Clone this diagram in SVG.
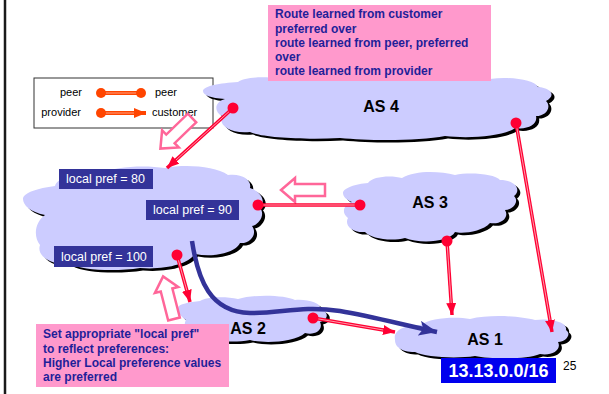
<svg xmlns="http://www.w3.org/2000/svg" xmlns:xlink="http://www.w3.org/1999/xlink" width="609" height="394" viewBox="0 0 609 394">
<style>
.cloud{fill:#CCCCFF;stroke:none}
.shadow{fill:#000}
.aslabel{font-family:"Liberation Sans",Arial,sans-serif;font-weight:bold;font-size:16px;fill:#000;text-anchor:middle}
.note{fill:#FF99CC}
.notetext{font-family:"Liberation Sans",Arial,sans-serif;font-weight:bold;font-size:12px;fill:#1F1F99}
.lpbox{fill:#333399}
.lptext{font-family:"Liberation Sans",Arial,sans-serif;font-size:12.5px;fill:#fff}
.legtext{font-family:"Liberation Sans",Arial,sans-serif;font-size:11px;fill:#000}
.rel{stroke:#FF0033;stroke-width:3.5;fill:none}
.relin{stroke:#FF9AAA;stroke-width:1;fill:none}
.dot{fill:#FF0033}
.hollow{fill:#fff;stroke:#FF6699;stroke-width:2.5;stroke-linejoin:miter}
</style>
<defs>
<marker id="redhead" markerUnits="userSpaceOnUse" markerWidth="13" markerHeight="11" refX="12" refY="5" orient="auto">
<path d="M0,0 L12,5 L0,10 z" fill="#FF0033"/>
</marker>
<marker id="orangehead" markerUnits="userSpaceOnUse" markerWidth="13" markerHeight="11" refX="12" refY="5" orient="auto">
<path d="M0,0 L12,5 L0,10 z" fill="#FF4500"/>
</marker>
<marker id="navyhead" markerUnits="userSpaceOnUse" markerWidth="20" markerHeight="16" refX="18" refY="7.5" orient="auto">
<path d="M0,0 L18,7.5 L0,15 L4,7.5 z" fill="#333399"/>
</marker>
<polygon id="hollow" points="0,-6 30,-6 30,-12 44,0 30,12 30,6 0,6"/>
<path id="c-as4" d="M203,91 C203,86 220,83 238,82 C245,77 265,76 280,79 C310,74 350,75 380,78 C420,74 460,75 490,79 C510,76 535,80 538,87 C552,88 556,96 546,101 C552,107 546,116 536,116 C538,124 528,130 515,128 C505,136 470,139 445,136 C420,141 370,141 340,138 C300,140 260,137 250,132 C230,134 218,125 222,116 C214,112 214,102 225,99 C210,98 203,95 203,91 Z"/>
<path id="c-local" d="M23,199 C23,193 38,188 55,186 C58,176 80,172 100,174 C115,166 145,165 165,168 C185,164 215,166 228,175 C242,173 252,180 250,188 C262,192 266,202 260,208 C266,215 258,225 252,226 C258,234 250,244 240,243 C236,252 215,258 195,254 C188,264 165,270 140,268 C115,272 80,270 70,264 C52,266 36,256 40,245 C33,236 35,222 45,215 C30,212 23,205 23,199 Z"/>
<path id="c-as3" d="M343,193 C343,188 356,184 368,183 C372,176 392,175 402,178 C415,170 440,171 455,175 C470,172 495,174 500,180 C515,180 522,190 514,196 C520,202 512,210 505,210 C510,218 500,225 490,223 C482,232 462,234 455,232 C450,242 420,244 405,238 C390,242 370,238 365,232 C352,233 344,225 348,218 C340,212 345,204 352,202 C346,200 343,196 343,193 Z"/>
<path id="c-as2" d="M178,308 C178,304 190,302 200,301 C205,297 225,296 238,299 C255,294 285,295 295,300 C310,299 322,304 320,309 C330,312 328,320 320,322 C324,330 314,336 305,333 C295,342 265,344 250,340 C230,344 205,340 200,334 C188,334 182,326 186,320 C180,316 178,312 178,308 Z"/>
<path id="c-as1" d="M395,340 C393,330 405,325 420,325 C430,318 455,316 470,319 C490,314 520,316 535,320 C550,318 568,322 566,330 C572,334 566,342 558,342 C562,350 552,356 540,354 C525,360 490,359 475,356 C455,359 425,357 415,352 C400,352 395,346 395,340 Z"/>
</defs>

<rect x="0" y="0" width="609" height="394" fill="#fff"/>
<line x1="5" y1="0" x2="5" y2="394" stroke="#1a1a1a" stroke-width="2.5"/>

<g id="legend">
<rect x="34" y="78" width="179" height="50" fill="#fff" stroke="#333" stroke-width="1"/>
<text class="legtext" x="82" y="96" text-anchor="end">peer</text>
<line x1="101" y1="93" x2="141" y2="93" stroke="#FF4500" stroke-width="4"/>
<line x1="101" y1="93" x2="141" y2="93" stroke="#FFA080" stroke-width="1"/>
<circle cx="101" cy="93" r="5" fill="#FF4500"/>
<circle cx="141" cy="93" r="5" fill="#FF4500"/>
<text class="legtext" x="155" y="96">peer</text>
<text class="legtext" x="81" y="116" text-anchor="end">provider</text>
<line x1="101" y1="113" x2="146" y2="113" stroke="#FF4500" stroke-width="4" marker-end="url(#orangehead)"/>
<line x1="101" y1="113" x2="134" y2="113" stroke="#FFA080" stroke-width="1"/>
<circle cx="101" cy="113" r="5" fill="#FF4500"/>
<text class="legtext" x="152" y="116">customer</text>
</g>

<g id="as4">
<use xlink:href="#c-as4" class="shadow" transform="translate(3,2.5)"/>
<use xlink:href="#c-as4" class="cloud"/>
<text class="aslabel" x="381" y="112">AS 4</text>
</g>
<g id="local-as">
<use xlink:href="#c-local" class="shadow" transform="translate(3,2.5)"/>
<use xlink:href="#c-local" class="cloud"/>
</g>
<g id="as3">
<use xlink:href="#c-as3" class="shadow" transform="translate(3,2.5)"/>
<use xlink:href="#c-as3" class="cloud"/>
<text class="aslabel" x="430" y="208">AS 3</text>
</g>
<g id="as2">
<use xlink:href="#c-as2" class="shadow" transform="translate(3,2.5)"/>
<use xlink:href="#c-as2" class="cloud"/>
<text class="aslabel" x="248" y="334">AS 2</text>
</g>
<g id="as1">
<use xlink:href="#c-as1" class="shadow" transform="translate(3,2.5)"/>
<use xlink:href="#c-as1" class="cloud"/>
<text class="aslabel" x="485" y="345">AS 1</text>
</g>

<g id="hollow-arrows">
<use xlink:href="#hollow" class="hollow" transform="translate(192,118) rotate(135.9)"/>
<use xlink:href="#hollow" class="hollow" transform="translate(325,190) rotate(180)"/>
<use xlink:href="#hollow" class="hollow" transform="translate(174,319) rotate(-104.35)"/>
</g>

<g id="connectors">
<line class="rel" x1="233" y1="108" x2="167" y2="168" marker-end="url(#redhead)"/>
<line class="relin" x1="233" y1="108" x2="176" y2="160"/>
<line class="rel" x1="516" y1="123" x2="552" y2="332" marker-end="url(#redhead)"/>
<line class="relin" x1="516" y1="123" x2="550" y2="320"/>
<line class="rel" x1="258" y1="205" x2="360" y2="205"/>
<line class="relin" x1="258" y1="205" x2="360" y2="205"/>
<line class="rel" x1="447" y1="241" x2="452" y2="315" marker-end="url(#redhead)"/>
<line class="relin" x1="447" y1="241" x2="451.2" y2="303"/>
<line class="rel" x1="177" y1="255" x2="190" y2="302" marker-end="url(#redhead)"/>
<line class="relin" x1="177" y1="255" x2="186.8" y2="290.4"/>
<line class="rel" x1="313" y1="318" x2="395" y2="332" marker-end="url(#redhead)"/>
<line class="relin" x1="313" y1="318" x2="383.2" y2="330"/>
<path d="M192,241 C198,280 210,312 250,313 C280,314 300,305 340,311 C370,316 400,324 437,332" fill="none" stroke="#333399" stroke-width="4.5" marker-end="url(#navyhead)"/>
<circle class="dot" cx="233" cy="108" r="5.5"/>
<circle class="dot" cx="516" cy="123" r="5.5"/>
<circle class="dot" cx="258" cy="205" r="5.5"/>
<circle class="dot" cx="360" cy="205" r="5.5"/>
<circle class="dot" cx="447" cy="241" r="5.5"/>
<circle class="dot" cx="177" cy="255" r="5.5"/>
<circle class="dot" cx="313" cy="318" r="5.5"/>
</g>

<g id="local-pref-labels">
<rect class="lpbox" x="59" y="169" width="94" height="20"/>
<text class="lptext" x="66" y="183">local pref = 80</text>
<rect class="lpbox" x="146" y="200" width="93" height="20"/>
<text class="lptext" x="153" y="214">local pref = 90</text>
<rect class="lpbox" x="54" y="246" width="99" height="21"/>
<text class="lptext" x="61" y="261">local pref = 100</text>
</g>

<g id="note-top">
<rect class="note" x="268" y="5" width="223" height="76"/>
<text class="notetext" x="275" y="18">Route learned from customer</text>
<text class="notetext" x="275" y="32.5">preferred over</text>
<text class="notetext" x="275" y="47">route learned from peer, preferred</text>
<text class="notetext" x="275" y="61">over</text>
<text class="notetext" x="275" y="75">route learned from provider</text>
</g>

<g id="note-bottom">
<rect class="note" x="36" y="324" width="193" height="63"/>
<text class="notetext" x="43" y="338">Set appropriate "local pref"</text>
<text class="notetext" x="43" y="352.5">to reflect preferences:</text>
<text class="notetext" x="43" y="367">Higher Local preference values</text>
<text class="notetext" x="43" y="381">are preferred</text>
</g>

<g id="prefix">
<rect x="441" y="358" width="115" height="25" fill="#0000EE"/>
<text x="498.5" y="376.5" text-anchor="middle" font-family="Liberation Sans, Arial, sans-serif" font-weight="bold" font-size="18" fill="#fff">13.13.0.0/16</text>
</g>
<text x="563" y="370" font-family="Liberation Sans, Arial, sans-serif" font-size="12" fill="#000">25</text>
</svg>
